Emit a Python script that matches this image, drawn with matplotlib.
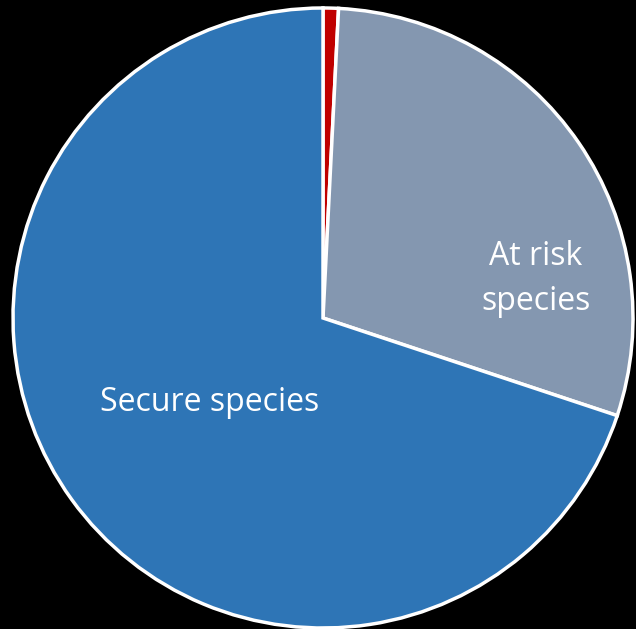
import matplotlib.pyplot as plt

# Species status shares (percent)
labels = ["Extinct", "At risk\nspecies", "Secure species"]
shares = [0.8, 29.3, 69.9]
colors = ["#C00000", "#8497B0", "#2E75B6"]

fig = plt.figure(figsize=(6.36, 6.29), dpi=100, facecolor="black")
ax = fig.add_axes([13 / 636, 1 / 629, 620 / 636, 620 / 629])
ax.set_facecolor("black")

ax.pie(
    shares,
    colors=colors,
    startangle=90,
    counterclock=False,
    radius=1,
    wedgeprops=dict(edgecolor="white", linewidth=2.5),
)

# Labels for the two big slices
ax.text(0.687, 0.126, labels[1], color="white", fontsize=23,
        family="Open Sans", ha="center", va="center", linespacing=1.5)
ax.text(-0.365, -0.272, labels[2], color="white", fontsize=23,
        family="Open Sans", ha="center", va="center")

ax.set_xlim(-1.0, 1.0)
ax.set_ylim(-1.0, 1.0)
ax.axis("off")

fig.savefig("out.png", dpi=100, facecolor="black")
